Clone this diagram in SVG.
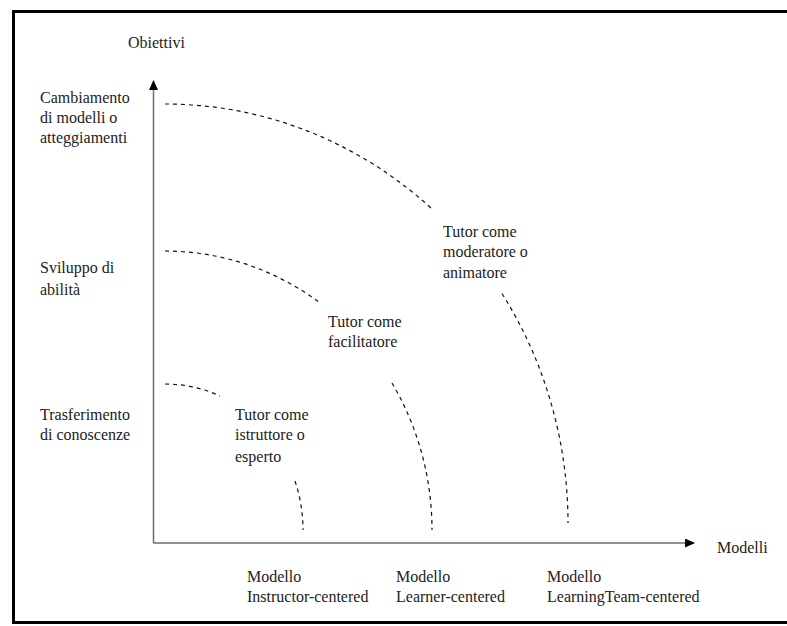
<svg xmlns="http://www.w3.org/2000/svg" width="787" height="626" viewBox="0 0 787 626">
<style>
.t text{font-size:16px;fill:#222}
.axis{stroke:#6e6e6e;stroke-width:1.5;fill:none}
.curve{stroke:#111;stroke-width:1.2;fill:none;stroke-dasharray:4 4}
</style>
<defs>
<marker id="arrow" viewBox="0 0 10 10" refX="9" refY="5" markerWidth="10" markerHeight="9" markerUnits="userSpaceOnUse" orient="auto" preserveAspectRatio="none">
<path d="M0,0 L10,5 L0,10 Z" fill="#000"/>
</marker>
</defs>
<rect x="0" y="0" width="787" height="626" fill="#fff"/>
<rect x="13.5" y="11.5" width="800" height="611" fill="none" stroke="#000" stroke-width="3"/>
<g id="axes">
<line class="axis" x1="153.5" y1="543" x2="153.5" y2="81" marker-end="url(#arrow)"/>
<line class="axis" x1="153.5" y1="543" x2="694" y2="543" marker-end="url(#arrow)"/>
</g>
<g id="connectors">
<path class="curve" d="M165,104 A403,419 0 0 1 432,209"/>
<path class="curve" d="M502,293.5 A403,419 0 0 1 568,523"/>
<path class="curve" d="M165,251 A267,279 0 0 1 318,301.4"/>
<path class="curve" d="M392,383 A267,279 0 0 1 432,530"/>
<path class="curve" d="M165,384 A138,146 0 0 1 220,396"/>
<path class="curve" d="M295,481 A138,146 0 0 1 303,530"/>
</g>
<g class="t" font-family="'Liberation Serif', 'Times New Roman', 'DejaVu Serif', serif">
<g id="axis-y-label"><text x="128" y="48">Obiettivi</text></g>
<g id="axis-x-label"><text x="717" y="553">Modelli</text></g>
<g id="level-cambiamento">
<text x="40" y="103">Cambiamento</text>
<text x="40" y="123">di modelli o</text>
<text x="40" y="143">atteggiamenti</text>
</g>
<g id="level-sviluppo">
<text x="40" y="273">Sviluppo di</text>
<text x="40" y="295">abilità</text>
</g>
<g id="level-trasferimento">
<text x="40" y="420">Trasferimento</text>
<text x="40" y="440">di conoscenze</text>
</g>
<g id="tutor-istruttore">
<text x="235" y="420">Tutor come</text>
<text x="235" y="440">istruttore o</text>
<text x="235" y="462">esperto</text>
</g>
<g id="tutor-facilitatore">
<text x="328" y="327">Tutor come</text>
<text x="328" y="347">facilitatore</text>
</g>
<g id="tutor-moderatore">
<text x="443" y="237">Tutor come</text>
<text x="443" y="257">moderatore o</text>
<text x="443" y="278">animatore</text>
</g>
<g id="model-instructor">
<text x="247" y="582">Modello</text>
<text x="247" y="602">Instructor-centered</text>
</g>
<g id="model-learner">
<text x="396" y="582">Modello</text>
<text x="396" y="602">Learner-centered</text>
</g>
<g id="model-team">
<text x="547" y="582">Modello</text>
<text x="547" y="602">LearningTeam-centered</text>
</g>
</g>
</svg>
